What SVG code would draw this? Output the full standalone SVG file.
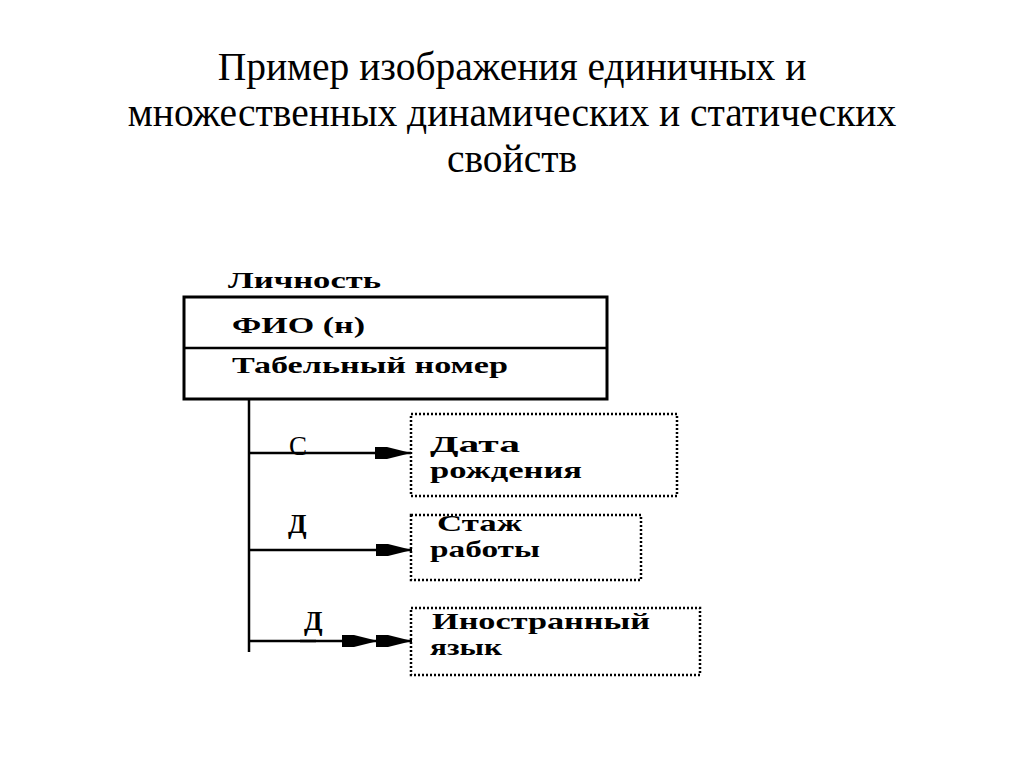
<svg xmlns="http://www.w3.org/2000/svg" width="1024" height="768" viewBox="0 0 1024 768">
<defs>
<style>
.title{font-family:"Liberation Serif","Times New Roman",serif;font-size:39.5px;fill:#000;text-anchor:middle}
.t{font-family:"Liberation Serif","Times New Roman",serif;font-size:24px;fill:#000;font-weight:bold}
.lbl{font-family:"Liberation Serif","Times New Roman",serif;font-size:27px;fill:#000}
.box{fill:none;stroke:#000;stroke-width:3}
.dot{fill:none;stroke:#000;stroke-width:2.5;stroke-dasharray:2 2}
.ln{stroke:#000;stroke-width:2.5;fill:none}
</style>
<marker id="ah" viewBox="0 0 36 14" refX="36" refY="7" markerWidth="36" markerHeight="14" markerUnits="userSpaceOnUse" orient="auto">
<path d="M0,1 L12,1 L36,7 L12,13 L0,13 Z" fill="#000"/>
</marker>
</defs>
<rect width="1024" height="768" fill="#fff"/>
<g id="title">
<text class="title" x="512" y="80">Пример изображения единичных и</text>
<text class="title" x="512" y="126">множественных динамических и статических</text>
<text class="title" x="512" y="172">свойств</text>
</g>
<g id="lichnost">
<text class="t" x="228" y="288" textLength="153" lengthAdjust="spacingAndGlyphs">Личность</text>
<rect class="box" x="184" y="297" width="423" height="102"/>
<line class="ln" x1="184" y1="348" x2="607" y2="348" stroke-width="3"/>
<text class="t" x="232" y="333" textLength="133" lengthAdjust="spacingAndGlyphs">ФИО (н)</text>
<text class="t" x="232" y="373" textLength="276" lengthAdjust="spacingAndGlyphs">Табельный номер</text>
</g>
<g id="data">
<rect class="dot" x="411" y="414" width="266" height="82"/>
<text class="t" x="430" y="452" textLength="90" lengthAdjust="spacingAndGlyphs">Дата</text>
<text class="t" x="430" y="478" textLength="152" lengthAdjust="spacingAndGlyphs">рождения</text>
</g>
<g id="stazh">
<rect class="dot" x="411" y="515" width="230" height="65"/>
<text class="t" x="437" y="531" textLength="85" lengthAdjust="spacingAndGlyphs">Стаж</text>
<text class="t" x="430" y="557" textLength="110" lengthAdjust="spacingAndGlyphs">работы</text>
</g>
<g id="yazyk">
<rect class="dot" x="411" y="608" width="289" height="67"/>
<text class="t" x="432" y="629" textLength="218" lengthAdjust="spacingAndGlyphs">Иностранный</text>
<text class="t" x="430" y="655" textLength="72" lengthAdjust="spacingAndGlyphs">язык</text>
</g>
<g id="connectors">
<line class="ln" x1="249" y1="398" x2="249" y2="652" stroke-width="3"/>
<line class="ln" x1="249" y1="453" x2="411" y2="453" marker-end="url(#ah)"/>
<line class="ln" x1="249" y1="550" x2="412" y2="550" marker-end="url(#ah)"/>
<line class="ln" x1="249" y1="641" x2="378" y2="641" marker-end="url(#ah)"/>
<line class="ln" x1="300" y1="641" x2="316" y2="641" stroke-width="4"/>
<line class="ln" x1="376" y1="641" x2="412" y2="641" marker-end="url(#ah)"/>
<text class="lbl" x="289" y="455">С</text>
<text class="lbl" x="288" y="533" font-weight="bold">Д</text>
<text class="lbl" x="304" y="630" font-weight="bold">Д</text>
</g>
</svg>
